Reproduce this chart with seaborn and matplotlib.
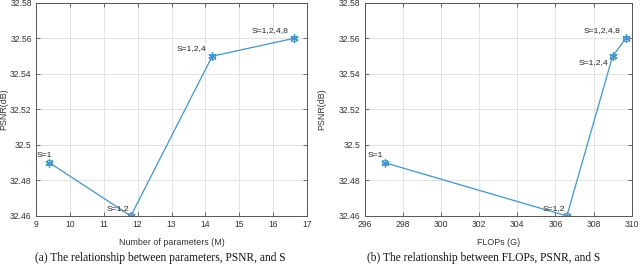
import matplotlib
matplotlib.use("Agg")
import matplotlib.pyplot as plt
import seaborn as sns
import pandas as pd

labels = ["S=1", "S=1,2", "S=1,2,4", "S=1,2,4,8"]
params_m = [9.4, 11.8, 14.2, 16.6]
flops_g = [297.05, 306.6, 309.0, 309.7]
psnr_db = [32.49, 32.46, 32.55, 32.56]

left_xticks = [9, 10, 11, 12, 13, 14, 15, 16, 17]
right_xticks = [296, 298, 300, 302, 304, 306, 308, 310]
yticks = [32.46, 32.48, 32.5, 32.52, 32.54, 32.56, 32.58]
ytick_labels = ["32.46", "32.48", "32.5", "32.52", "32.54", "32.56", "32.58"]

sns.set_theme(style="white")
plt.rcParams["font.family"] = ["Liberation Sans", "DejaVu Sans"]

line_color = "#3a97d6"
axis_color = "#555555"
text_color = "#333333"

fig = plt.figure(figsize=(6.4, 2.65), dpi=100)
ax1 = fig.add_axes([0.056, 0.185, 0.424, 0.804])
ax2 = fig.add_axes([0.570, 0.185, 0.417, 0.804])

df1 = pd.DataFrame({"x": params_m, "y": psnr_db, "label": labels})
df2 = pd.DataFrame({"x": flops_g, "y": psnr_db, "label": labels})

left_offsets = [(2, 3), (-1, 3), (-4, 3), (-4, 3)]
right_offsets = [(-1, 3), (-1, 3), (-3, -7), (-4, 3)]

for ax, df, xticks, xlabel, offsets, ylab_x in [
    (ax1, df1, left_xticks, "Number of parameters (M)", left_offsets, -0.103),
    (ax2, df2, right_xticks, "FLOPs (G)", right_offsets, -0.145),
]:
    sns.lineplot(data=df, x="x", y="y", ax=ax, sort=False, color=line_color,
                 linewidth=0.9, marker=(6, 2, 0), markersize=6,
                 markeredgewidth=0.9, markeredgecolor=line_color)
    sns.scatterplot(data=df, x="x", y="y", ax=ax, marker="s", s=14,
                    facecolor="none", edgecolor=line_color, linewidth=0.6, zorder=4)
    for (_, r), off in zip(df.iterrows(), offsets):
        ax.annotate(r["label"], (r["x"], r["y"]), xytext=off, textcoords="offset points",
                    ha="right", va="bottom", fontsize=6.1, color="#222222")
    ax.set_xlim(xticks[0], xticks[-1])
    ax.set_ylim(32.46, 32.58)
    ax.set_xticks(xticks)
    ax.set_xticklabels([str(t) for t in xticks])
    ax.set_yticks(yticks)
    ax.set_yticklabels(ytick_labels)
    ax.grid(True, color="#e3e3e3", linewidth=0.7)
    ax.set_axisbelow(True)
    for s in ax.spines.values():
        s.set_color(axis_color)
        s.set_linewidth(0.7)
        s.set_visible(True)
    ax.tick_params(direction="in", length=3, width=0.6, color=axis_color,
                   labelsize=6.2, labelcolor=text_color, top=True, right=True,
                   bottom=True, left=True, pad=3)
    ax.set_xlabel(xlabel, fontsize=6.4, color=text_color)
    ax.set_ylabel("PSNR(dB)", fontsize=6.4, color=text_color)
    ax.xaxis.set_label_coords(0.5, -0.103)
    ax.yaxis.set_label_coords(ylab_x, 0.5)

serif = ["Liberation Serif", "DejaVu Serif"]
fig.text(0.25, 0.026, "(a) The relationship between parameters, PSNR, and S",
         ha="center", va="center", fontsize=8.3, family=serif, color="#111111")
fig.text(0.755, 0.026, "(b) The relationship between FLOPs, PSNR, and S",
         ha="center", va="center", fontsize=8.3, family=serif, color="#111111")

fig.savefig("out.png", dpi=100)
